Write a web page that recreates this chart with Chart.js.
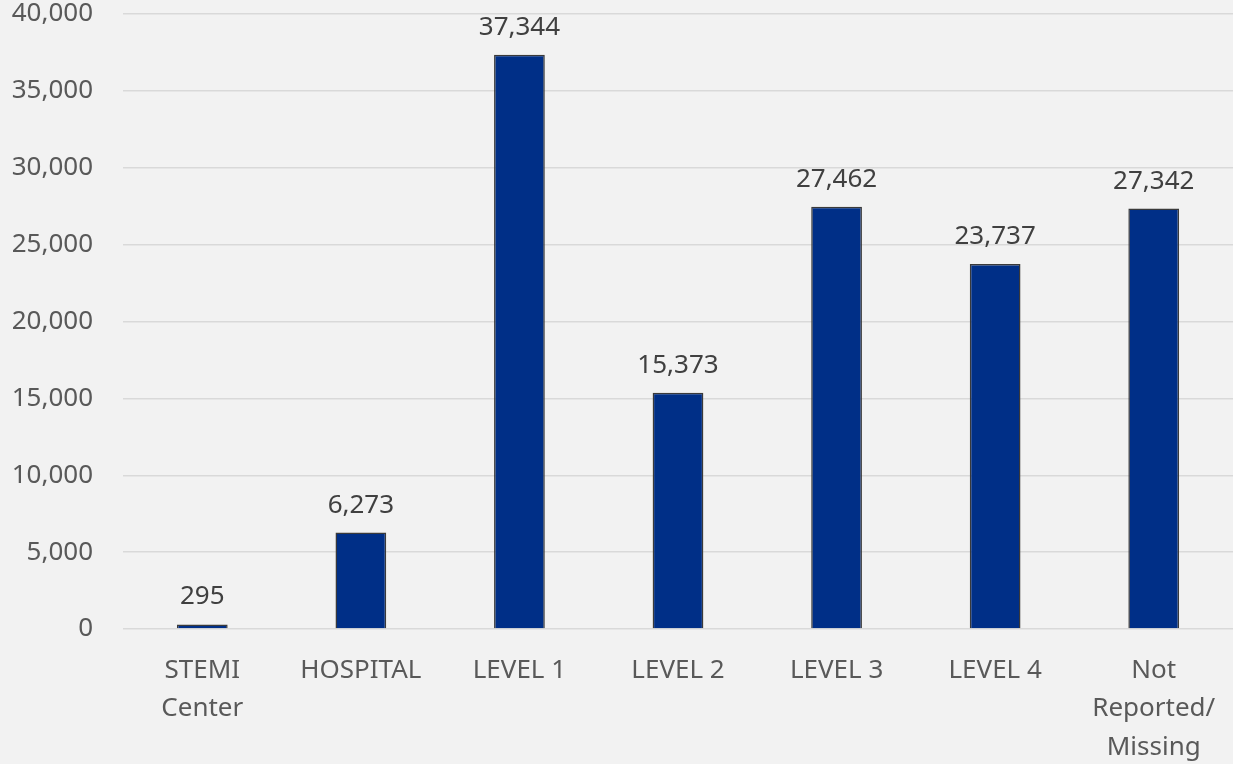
<!DOCTYPE html>
<html>
<head>
<meta charset="utf-8">
<script src="https://cdn.jsdelivr.net/npm/chart.js@4/dist/chart.umd.min.js"></script>
<style>
  html, body { margin: 0; padding: 0; background: #f2f2f2; }
  #wrap { width: 1233px; height: 764px; position: relative; }
</style>
</head>
<body>
<div id="wrap"><canvas id="levelChart"></canvas></div>
<script>
// data
const categories = [
    ['STEMI', 'Center'],
    'HOSPITAL',
    'LEVEL 1',
    'LEVEL 2',
    'LEVEL 3',
    'LEVEL 4',
    ['Not', 'Reported/', 'Missing']
];
const counts = [295, 6273, 37344, 15373, 27462, 23737, 27342];
const yTicks = [0, 5000, 10000, 15000, 20000, 25000, 30000, 35000, 40000];

const fontFamily = '"Noto Sans", "Open Sans", sans-serif';

// value labels above each bar
const valueLabels = {
    id: 'valueLabels',
    afterDatasetsDraw(chart) {
        const ctx = chart.ctx;
        const meta = chart.getDatasetMeta(0);
        ctx.save();
        ctx.font = '26px ' + fontFamily;
        ctx.fillStyle = '#404040';
        ctx.textAlign = 'center';
        ctx.textBaseline = 'alphabetic';
        meta.data.forEach(function(bar, i) {
            ctx.fillText(counts[i].toLocaleString('en-US'), bar.x, bar.y - 20);
        });
        ctx.restore();
    }
};

document.addEventListener('DOMContentLoaded', function() {
    const ctx = document.getElementById('levelChart').getContext('2d');

    new Chart(ctx, {
        type: 'bar',
        data: {
            labels: categories,
            datasets: [{
                data: counts,
                backgroundColor: '#002f87',
                borderColor: '#3a3a3a',
                borderWidth: 1.5,
                barPercentage: 0.32,
                categoryPercentage: 1
            }]
        },
        options: {
            responsive: true,
            maintainAspectRatio: false,
            animation: false,
            layout: {
                padding: { left: 0, right: 0, top: 14, bottom: 0 }
            },
            scales: {
                y: {
                    min: 0,
                    max: 40000,
                    afterFit: function(scale) {
                        scale.width = 123;
                        scale.paddingTop = 0;
                        scale.paddingBottom = 0;
                    },
                    afterBuildTicks: function(scale) {
                        scale.ticks = yTicks.map(v => ({ value: v }));
                    },
                    border: { display: false },
                    grid: { color: '#d9d9d9', lineWidth: 1.5, drawTicks: false },
                    ticks: {
                        color: '#595959',
                        padding: 30,
                        font: { family: fontFamily, size: 26 },
                        callback: v => v.toLocaleString('en-US')
                    }
                },
                x: {
                    afterFit: function(scale) {
                        scale.height = 135;
                        scale.paddingLeft = 0;
                        scale.paddingRight = 0;
                    },
                    border: { display: false },
                    grid: { display: false },
                    ticks: {
                        color: '#595959',
                        padding: 14,
                        maxRotation: 0,
                        autoSkip: false,
                        font: { family: fontFamily, size: 26, lineHeight: 1.48 }
                    }
                }
            },
            plugins: {
                legend: { display: false },
                tooltip: { enabled: false }
            }
        },
        plugins: [valueLabels]
    });
});
</script>
</body>
</html>
